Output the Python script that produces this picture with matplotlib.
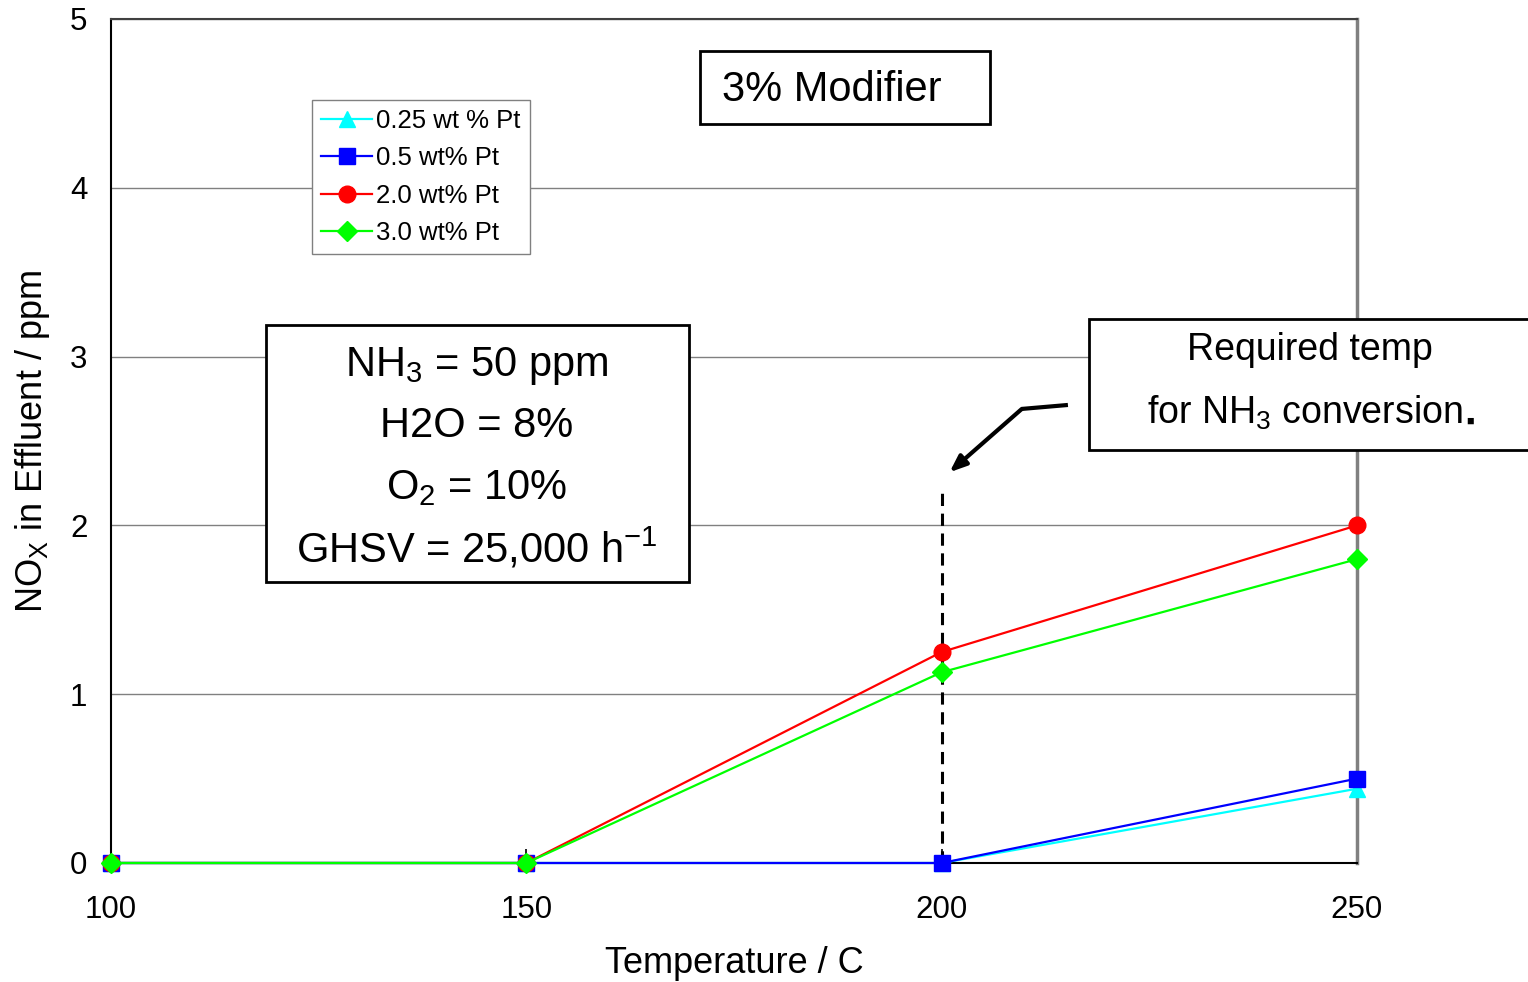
import numpy as np
import matplotlib.pyplot as plt
from matplotlib.patches import Rectangle

plt.rcParams['font.family'] = ['Liberation Sans', 'DejaVu Sans']
plt.rcParams['mathtext.default'] = 'regular'

# data
TEMPS = [100, 150, 200, 250]
LABELS = ['0.25 wt % Pt', '0.5 wt% Pt', '2.0 wt% Pt', '3.0 wt% Pt']
NOX_025 = [0, 0, 0, 0.44]
NOX_05 = [0, 0, 0, 0.50]
NOX_20 = [0, 0, 1.25, 2.00]
NOX_30 = [0, 0, 1.13, 1.80]
REQ_TEMP = 200
REQ_TOP = 2.19

COLORS = ['#00FFFF', '#0000FF', '#FF0000', '#00FF00']
MARKERS = ['^', 's', 'o', 'D']
SIZES = [12, 12, 12, 10]

fig = plt.figure(figsize=(15.28, 9.82), dpi=100)
ax = fig.add_axes([111/1528, 1 - 863/982, 1246/1528, 844/982])

for y, lab, c, m, s in zip([NOX_025, NOX_05, NOX_20, NOX_30], LABELS,
                           COLORS, MARKERS, SIZES):
    ax.plot(TEMPS, y, color=c, marker=m, markersize=s, lw=1.6,
            label=lab, clip_on=False, zorder=3)

ax.vlines(REQ_TEMP, 0, REQ_TOP, colors='black', linestyles=(0, (4, 2.5)),
          lw=2.2, zorder=2)

ax.set_xlim(100, 250)
ax.set_ylim(0, 5)
ax.set_xticks(TEMPS)
ax.set_yticks(range(6))
ax.tick_params(axis='x', direction='in', length=10, width=1.2,
               labelsize=22.5, pad=23)
ax.tick_params(axis='y', direction='in', length=0, labelsize=22.5, pad=17)
ax.grid(axis='y', color='#808080', lw=1)
ax.set_axisbelow(True)
ax.spines['left'].set_linewidth(1.5)
ax.spines['bottom'].set_linewidth(1.5)
ax.spines['top'].set_color('#404040')
ax.spines['top'].set_linewidth(1.5)
ax.spines['right'].set_color('#808080')
ax.spines['right'].set_linewidth(2.5)

ax.set_xlabel('Temperature / C', fontsize=26)
ax.xaxis.set_label_coords(0.5, -0.098)
ax.set_ylabel('NO$_X$ in Effluent / ppm', fontsize=26)
ax.yaxis.set_label_coords(-0.047, 0.5)

leg = ax.legend(loc='upper left', bbox_to_anchor=(312/1528, 1 - 100/982),
                bbox_transform=fig.transFigure, borderaxespad=0,
                fancybox=False, edgecolor='#808080', framealpha=1,
                fontsize=18.5, handlelength=2.0, handletextpad=0.15,
                labelspacing=0.52, borderpad=0.35)
leg.get_frame().set_linewidth(1)

# text boxes
def box(x0, y0, x1, y1):
    fig.patches.append(Rectangle((x0/1528, 1 - y1/982), (x1 - x0)/1528,
                                 (y1 - y0)/982, transform=fig.transFigure,
                                 fill=True, facecolor='white',
                                 edgecolor='black', lw=2, zorder=5))

box(700, 51, 990, 124)
fig.text(722/1528, 1 - 90/982, '3% Modifier', fontsize=30, va='center',
         zorder=6)

box(266, 325, 689, 582)
for yy, txt in zip([366, 426, 488, 549],
                   ['NH$_3$ = 50 ppm', 'H2O = 8%', 'O$_2$ = 10%',
                    'GHSV = 25,000 h$^{-1}$']):
    fig.text(477/1528, 1 - yy/982, txt, fontsize=30, ha='center',
             va='center', zorder=6)

box(1089, 319, 1560, 450)
fig.text(1310/1528, 1 - 350/982, 'Required temp', fontsize=27,
         ha='center', va='center', zorder=6)
fig.text(1305/1528, 1 - 413/982, 'for NH$_3$ conversion', fontsize=27,
         ha='center', va='center', zorder=6)
fig.text(1466/1528, 1 - 422/982, '\u25a0', fontsize=9, ha='left',
         va='center', zorder=6)

# arrow
ax.plot([0.768, 0.731], [0.5427, 0.538], transform=ax.transAxes,
        color='black', lw=3, solid_capstyle='butt')
ax.annotate('', xy=(0.673, 0.463), xytext=(0.731, 0.538),
            xycoords='axes fraction', textcoords='axes fraction',
            arrowprops=dict(arrowstyle='-|>,head_length=1.0,head_width=0.4',
                            color='black', lw=3, shrinkA=0, shrinkB=0))

fig.savefig('out.png', dpi=100)
